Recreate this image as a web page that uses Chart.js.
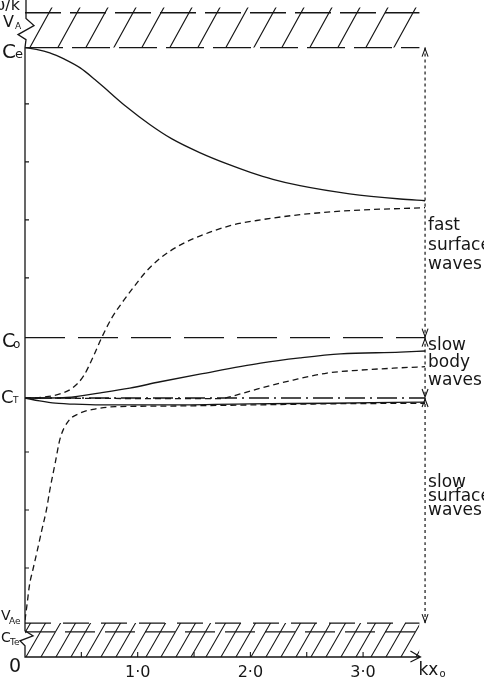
<!DOCTYPE html>
<html><head><meta charset="utf-8">
<script src="https://cdn.jsdelivr.net/npm/chart.js@4.4.1/dist/chart.umd.min.js"></script>
<style>html,body{margin:0;padding:0;background:#fff;overflow:hidden}</style>
</head><body>
<canvas id="c" width="484" height="695"></canvas>
<script>
// ---------- data (kx0 on x, phase speed in arbitrary units on y) ----------
const xTickValues = [1, 2, 3];
const xTickLabels = ['1·0', '2·0', '3·0'];
const xMinorTicks = [0.5, 1, 1.5, 2, 2.5, 3];
const yMinorTicks = [1, 2, 3, 6, 7, 8, 9];

// characteristic speeds
const levelVA = 10.57, levelCe = 9.97, levelCo = 4.97, levelCT = 3.93, levelVAe = 0.05, levelCTe = -0.10, levelZero = -0.534;

// fast surface waves
const fastSolidX = [0, 0.10, 0.22, 0.35, 0.49, 0.62, 0.75, 0.90, 1.11, 1.30, 1.55, 1.80, 2.00, 2.20, 2.44, 2.88, 3.33, 3.55];
const fastSolidY = [9.97, 9.94, 9.88, 9.77, 9.62, 9.42, 9.20, 8.95, 8.64, 8.40, 8.16, 7.96, 7.82, 7.70, 7.59, 7.45, 7.36, 7.33];
const fastDashX = [0, 0.18, 0.31, 0.42, 0.52, 0.60, 0.68, 0.77, 0.86, 0.96, 1.07, 1.20, 1.38, 1.55, 1.82, 2.09, 2.44, 2.88, 3.55];
const fastDashY = [3.93, 3.95, 4.00, 4.10, 4.31, 4.62, 4.97, 5.31, 5.57, 5.83, 6.10, 6.34, 6.57, 6.72, 6.90, 7.00, 7.09, 7.16, 7.21];
// slow body waves
const bodySolidX = [0, 0.22, 0.37, 0.67, 0.93, 1.20, 1.55, 2.09, 2.44, 2.80, 3.33, 3.55];
const bodySolidY = [3.93, 3.93, 3.94, 4.02, 4.10, 4.21, 4.34, 4.53, 4.62, 4.69, 4.72, 4.74];
const bodyDashX = [0, 1.29, 1.73, 1.91, 2.09, 2.38, 2.68, 2.97, 3.33, 3.55];
const bodyDashY = [3.93, 3.92, 3.92, 4.00, 4.10, 4.24, 4.36, 4.41, 4.45, 4.47];
// slow surface waves
const surfSolidX = [0, 0.13, 0.27, 0.37, 0.67, 1.20, 2.00, 2.71, 3.55];
const surfSolidY = [3.93, 3.88, 3.84, 3.83, 3.81, 3.81, 3.83, 3.84, 3.86];
const surfDashX = [0, 0.02, 0.04, 0.07, 0.11, 0.15, 0.19, 0.22, 0.27, 0.31, 0.38, 0.49, 0.62, 0.80, 1.20, 2.00, 2.71, 3.55];
const surfDashY = [0.10, 0.40, 0.71, 0.97, 1.31, 1.66, 2.00, 2.34, 2.83, 3.22, 3.52, 3.67, 3.74, 3.78, 3.79, 3.81, 3.83, 3.84];

// band extents and arrow position
const bandEndX = 3.5, arrowX = 3.55;
const topHatchTop = 10.66;
const arrowSegments = [[levelCe, levelCo], [levelCo, levelCT], [levelCT, levelVAe]];
const regionNames = [['fast', 'surface', 'waves'], ['slow', 'body', 'waves'], ['slow', 'surface', 'waves']];

// ---------- drawing ----------
const INK = '#161616';
const FONT = '"DejaVu Sans", sans-serif';
const pts = (xs, ys) => xs.map((v, i) => ({x: v, y: ys[i]}));
const hline = (yv, x1) => [{x: 0, y: yv}, {x: x1, y: yv}];

function hatch(w, h) {
  const c = document.createElement('canvas'); c.width = w; c.height = h;
  const g = c.getContext('2d'); g.strokeStyle = INK; g.lineWidth = 1.1;
  g.beginPath();
  for (let k = -2; k <= 2; k++) { g.moveTo(k * w - w, 2 * h); g.lineTo(k * w + 2 * w, -h); }
  g.stroke();
  return g.createPattern(c, 'repeat');
}

function line(data, dash, extra) {
  return Object.assign({data, borderColor: INK, borderWidth: 1.3, borderDash: dash || [], fill: false,
    pointRadius: 0, cubicInterpolationMode: 'monotone'}, extra || {});
}

const datasets = [
  {data: hline(topHatchTop, bandEndX), fill: {value: levelCe}, backgroundColor: hatch(28, 51), borderWidth: 0, pointRadius: 0},
  {data: hline(levelVAe, bandEndX), fill: {value: levelZero}, backgroundColor: hatch(15, 26), borderWidth: 0, pointRadius: 0},
  line(hline(levelVA, bandEndX), [36, 9]),
  line(hline(levelCe, bandEndX), [38, 9]),
  line(hline(levelVAe, bandEndX), [26, 12]),
  line(hline(levelCTe, bandEndX), [30, 10]),
  line(hline(levelCo, arrowX), [40, 13]),
  line(hline(levelCT, arrowX), [20, 5, 2, 5]),
  line(pts(fastSolidX, fastSolidY)),
  line(pts(fastDashX, fastDashY), [6, 4]),
  line(pts(bodySolidX, bodySolidY)),
  line(pts(bodyDashX, bodyDashY), [6, 4]),
  line(pts(surfSolidX, surfSolidY)),
  line(pts(surfDashX, surfDashY), [6, 4]),
];
arrowSegments.forEach(s => datasets.push(line([{x: arrowX, y: s[0]}, {x: arrowX, y: s[1]}], [3, 3], {borderWidth: 1.2})));

const decor = {
  id: 'decor',
  afterDatasetsDraw(chart) {
    const {ctx, scales: {x, y}} = chart;
    const X = v => x.getPixelForValue(v), Y = v => y.getPixelForValue(v);
    ctx.save();
    ctx.strokeStyle = INK; ctx.fillStyle = INK; ctx.lineWidth = 1.3; ctx.setLineDash([]);
    const ax = X(0), yb = Y(levelZero), yce = Y(levelCe), ycte = Y(levelCTe), yvae = Y(levelVAe);
    // y axis with breaks
    ctx.beginPath();
    ctx.moveTo(ax + 1, 0); ctx.lineTo(ax + 1, yce - 29); ctx.lineTo(ax + 9, yce - 22);
    ctx.lineTo(ax - 7, yce - 13); ctx.lineTo(ax + 1, yce - 8); ctx.lineTo(ax, yce);
    ctx.lineTo(ax, yvae); ctx.lineTo(ax, ycte - 1); ctx.lineTo(ax + 8, ycte + 4);
    ctx.lineTo(ax - 5, ycte + 9); ctx.lineTo(ax, ycte + 14); ctx.lineTo(ax, yb);
    // x axis with arrow
    const xe = X(bandEndX) + 1;
    ctx.lineTo(xe, yb);
    ctx.moveTo(xe - 10, yb - 6); ctx.lineTo(xe, yb); ctx.lineTo(xe - 10, yb + 5);
    ctx.stroke();
    // ticks
    ctx.lineWidth = 1.1;
    ctx.beginPath();
    xMinorTicks.forEach(v => { ctx.moveTo(X(v), yb); ctx.lineTo(X(v), yb - 5); });
    yMinorTicks.forEach(v => { ctx.moveTo(ax, Y(v)); ctx.lineTo(ax + 4, Y(v)); });
    ctx.stroke();
    // arrow heads on the dotted double arrows
    const xa = X(arrowX);
    ctx.beginPath();
    arrowSegments.forEach(s => {
      const a = Y(s[0]) + 1, b = Y(s[1]) - 1;
      ctx.moveTo(xa - 3, a + 8); ctx.lineTo(xa, a); ctx.lineTo(xa + 3, a + 8);
      ctx.moveTo(xa - 3, b - 8); ctx.lineTo(xa, b); ctx.lineTo(xa + 3, b - 8);
    });
    ctx.stroke();
    // region names
    ctx.textAlign = 'left'; ctx.textBaseline = 'alphabetic';
    ctx.font = '17px ' + FONT;
    const baselines = [[230, 250, 269], [350, 367, 385], [487, 501, 515]];
    regionNames.forEach((g, i) => g.forEach((w, j) => ctx.fillText(w, xa + 3, baselines[i][j])));
    // axis labels with subscripts
    const lab = (main, sub, x0, b, f1, f2, sx, sb) => {
      ctx.font = f1 + 'px ' + FONT; ctx.fillText(main, x0, b);
      if (sub) { ctx.font = f2 + 'px ' + FONT; ctx.fillText(sub, sx, sb); }
    };
    ctx.textAlign = 'right'; ctx.font = '16px ' + FONT; ctx.fillText('ω/k', 20, 10);
    ctx.textAlign = 'left';
    lab('V', 'A', 3, Y(levelVA) + 14, 16, 9, 15, Y(levelVA) + 16);
    lab('C', 'e', 2, yce + 10, 20, 13, 15, yce + 10);
    lab('C', 'o', 2, Y(levelCo) + 9, 19, 12, 13, Y(levelCo) + 10);
    lab('C', 'T', 1, Y(levelCT) + 5, 18, 9, 13, Y(levelCT) + 5);
    lab('V', 'Ae', 1, yvae - 3, 14, 9, 9, yvae + 1);
    lab('C', 'Te', 1, ycte + 10, 14, 9, 10, ycte + 13);
    lab('0', '', 9, yb + 15, 19);
    // x axis title
    lab('kx', 'o', xe - 2, yb + 18, 17, 10, xe + 19, yb + 20);
    ctx.restore();
  }
};

new Chart(document.getElementById('c'), {
  type: 'line',
  data: {datasets},
  plugins: [decor],
  options: {
    responsive: false, animation: false, devicePixelRatio: 1,
    layout: {padding: {left: 25, right: 0, top: 0, bottom: 0}},
    plugins: {legend: {display: false}, tooltip: {enabled: false}},
    scales: {
      x: {type: 'linear', min: 0, max: 4.073,
          grid: {display: false, drawTicks: false}, border: {display: false},
          afterBuildTicks: s => { s.ticks = xTickValues.map(v => ({value: v})); },
          afterFit: s => { s.height = 38; },
          ticks: {autoSkip: false, maxRotation: 0, padding: 6, color: INK,
                  font: {family: FONT, size: 16}, callback: (v, i) => xTickLabels[i]}},
      y: {type: 'linear', min: levelZero, max: 10.79, display: false}
    }
  }
});
</script>
</body></html>
